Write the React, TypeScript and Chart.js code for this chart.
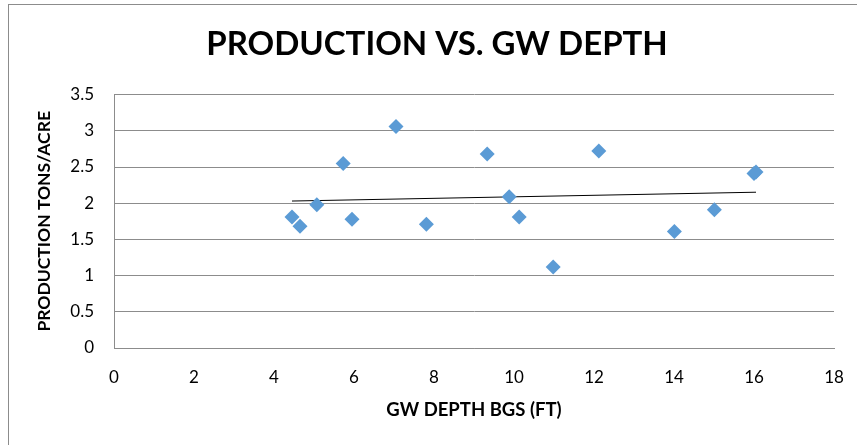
import React, { useEffect, useRef } from "react";
import { Chart, registerables } from "chart.js";

Chart.register(...registerables);

const depthFt = [4.45, 4.65, 5.07, 5.73, 5.95, 7.05, 7.81, 9.33, 9.88, 10.13, 10.98, 12.12, 14.01, 15.01, 16.0, 16.05];
const productionTonsAcre = [1.81, 1.68, 1.98, 2.55, 1.78, 3.06, 1.71, 2.68, 2.09, 1.81, 1.12, 2.72, 1.61, 1.91, 2.41, 2.43];
const xTicks = [0, 2, 4, 6, 8, 10, 12, 14, 16, 18];
const yTicks = [0, 0.5, 1, 1.5, 2, 2.5, 3, 3.5];

const FONT = "Lato, 'Open Sans', sans-serif";

function linearFit(xs: number[], ys: number[]) {
  const n = xs.length;
  const mx = xs.reduce((a, b) => a + b, 0) / n;
  const my = ys.reduce((a, b) => a + b, 0) / n;
  let sxy = 0, sxx = 0;
  for (let i = 0; i < n; i++) {
    sxy += (xs[i] - mx) * (ys[i] - my);
    sxx += (xs[i] - mx) * (xs[i] - mx);
  }
  const slope = sxy / sxx;
  const intercept = my - slope * mx;
  return { slope, intercept };
}

export default function App() {
  const ref = useRef<HTMLCanvasElement | null>(null);

  useEffect(() => {
    if (!ref.current) return;
    const points = depthFt.map((x, i) => ({ x, y: productionTonsAcre[i] }));
    const { slope, intercept } = linearFit(depthFt, productionTonsAcre);
    const xMin = Math.min(...depthFt);
    const xMax = Math.max(...depthFt);
    const trend = [
      { x: xMin, y: intercept + slope * xMin },
      { x: xMax, y: intercept + slope * xMax },
    ];
    const gridColor = "#8c8c8c";
    const chart = new Chart(ref.current, {
      type: "scatter",
      data: {
        datasets: [
          {
            label: "Production",
            data: points,
            pointStyle: "rectRot",
            pointRadius: 7.5,
            backgroundColor: "#5B9BD5",
            borderColor: "#5B9BD5",
            borderWidth: 0,
          },
          {
            label: "Trend",
            type: "line",
            data: trend,
            borderColor: "#000000",
            borderWidth: 1,
            pointRadius: 0,
            fill: false,
          },
        ],
      },
      options: {
        animation: false,
        responsive: false,
        maintainAspectRatio: false,
        layout: { padding: { left: 0, right: 0, top: 0, bottom: 0 } },
        plugins: {
          legend: { display: false },
          tooltip: { enabled: false },
          title: {
            display: true,
            text: "PRODUCTION VS. GW DEPTH",
            color: "#000",
            font: { family: FONT, size: 33, weight: "bold" },
            padding: { top: 20, bottom: 30 },
          },
        },
        scales: {
          x: {
            type: "linear",
            min: 0,
            max: 18,
            afterBuildTicks: (axis: any) => {
              axis.ticks = xTicks.map((v) => ({ value: v }));
            },
            afterFit: (axis: any) => {
              axis.height = 97;
            },
            ticks: {
              color: "#000",
              font: { family: FONT, size: 17 },
              padding: 19,
            },
            grid: { display: false, drawTicks: false },
            border: { display: true, color: gridColor, width: 1 },
            title: {
              display: true,
              text: "GW DEPTH BGS (FT)",
              color: "#000",
              font: { family: FONT, size: 18.5, weight: "bold" },
              padding: { top: 0, bottom: 24 },
            },
          },
          y: {
            type: "linear",
            min: 0,
            max: 3.5,
            afterBuildTicks: (axis: any) => {
              axis.ticks = yTicks.map((v) => ({ value: v }));
            },
            afterFit: (axis: any) => {
              axis.width = 105;
            },
            ticks: {
              color: "#000",
              font: { family: FONT, size: 17 },
              padding: 20,
              callback: (v: any) => String(v),
            },
            grid: { color: gridColor, drawTicks: false, lineWidth: 1 },
            border: { display: true, color: gridColor, width: 1 },
            title: {
              display: true,
              text: "PRODUCTION TONS/ACRE",
              color: "#000",
              font: { family: FONT, size: 17.5, weight: "bold" },
              padding: { top: 25, bottom: 0 },
            },
          },
          yPad: {
            type: "linear",
            position: "right",
            display: true,
            afterFit: (axis: any) => {
              axis.width = 31;
            },
            ticks: { display: false },
            grid: { display: false, drawTicks: false },
            border: { display: false },
          },
        },
      },
    });
    return () => chart.destroy();
  }, []);

  return (
    <div style={{ position: "fixed", left: 0, top: 0, width: 857, height: 445, overflow: "hidden", background: "#fff" }}>
      <div
        style={{
          position: "absolute",
          left: 8,
          top: 4,
          width: 880,
          height: 460,
          borderTop: "1px solid #8c8c8c",
          borderLeft: "1px solid #8c8c8c",
          boxSizing: "border-box",
        }}
      >
        <canvas ref={ref} width={856} height={440} style={{ display: "block", width: 856, height: 440 }} />
      </div>
    </div>
  );
}
